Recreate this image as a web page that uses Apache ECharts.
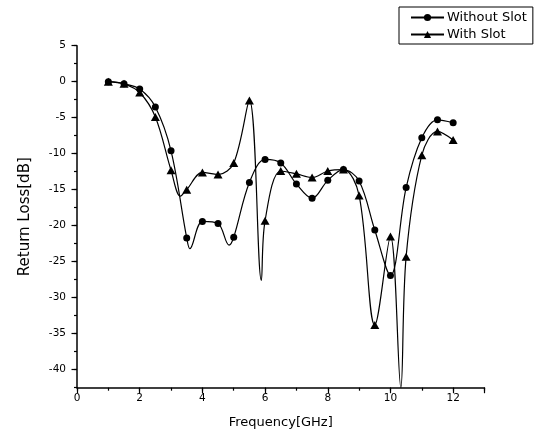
<!DOCTYPE html>
<html>
<head>
<meta charset="utf-8">
<script src="https://cdn.jsdelivr.net/npm/echarts@6/dist/echarts.min.js"></script>
<style>
html,body{margin:0;padding:0;background:#fff;}
#chart{width:540px;height:438px;}
</style>
</head>
<body>
<div id="chart"></div>
<script>
// Frequency (GHz) of the measured points
const freq = [1, 1.5, 2, 2.5, 3, 3.5, 4, 4.5, 5, 5.5, 6, 6.5, 7, 7.5, 8, 8.5, 9, 9.5, 10, 10.5, 11, 11.5, 12];
// Return loss (dB) — Without Slot (circles)
const withoutSlot = [0, -0.3, -1.0, -3.5, -9.6, -21.7, -19.4, -19.7, -21.6, -14.0, -10.8, -11.3, -14.2, -16.2, -13.7, -12.2, -13.8, -20.6, -26.9, -14.7, -7.8, -5.3, -5.7];
// Return loss (dB) — With Slot (triangles)
const withSlot = [0, -0.3, -1.5, -4.9, -12.3, -15.0, -12.6, -12.9, -11.3, -2.6, -19.3, -12.4, -12.8, -13.3, -12.4, -12.2, -15.8, -33.8, -21.5, -24.3, -10.2, -6.9, -8.1];
// Unmarked curve extremes read between markers
const withoutSlotDipFreq = [3.6, 4.85];
const withoutSlotDipVal = [-23.2, -22.7];
const withSlotDipFreq = [3.3, 5.88, 10.33];
const withSlotDipVal = [-15.9, -27.6, -42.5];

const xTickLabels = [0, 2, 4, 6, 8, 10, 12];
const yTickLabels = [5, 0, -5, -10, -15, -20, -25, -30, -35, -40];

function build(xs, ys, hx, hy) {
  const pts = xs.map((x, i) => ({ value: [x, ys[i]] }));
  hx.forEach((x, i) => pts.push({ value: [x, hy[i]], symbol: 'none' }));
  pts.sort((a, b) => a.value[0] - b.value[0]);
  return pts;
}

const FONT = 'DejaVu Sans';
const chart = echarts.init(document.getElementById('chart'), null, { renderer: 'canvas' });
const axisLine = { show: true, onZero: false, lineStyle: { color: '#000', width: 1.5 } };

chart.setOption({
  animation: false,
  backgroundColor: '#fff',
  grid: { left: 77, right: 55.5, top: 45.7, bottom: 50.3, containLabel: false },
  legend: {
    orient: 'vertical',
    left: 399,
    top: 7,
    padding: [3, 6, 2, 11],
    itemGap: 2,
    itemWidth: 33,
    itemHeight: 9,
    borderColor: '#000',
    borderWidth: 1,
    borderRadius: 0,
    backgroundColor: '#fff',
    textStyle: { color: '#000', fontFamily: FONT, fontSize: 13, lineHeight: 15, padding: [0, 0, 0, -2] },
    data: ['Without Slot', 'With Slot']
  },
  xAxis: [
    {
      type: 'value', min: 0, max: 13, interval: 1,
      name: 'Frequency[GHz]', nameLocation: 'middle', nameGap: 28,
      nameTextStyle: { color: '#000', fontFamily: FONT, fontSize: 13 },
      axisLine: axisLine,
      axisTick: { show: true, inside: false, length: 3, lineStyle: { color: '#000', width: 1.2 } },
      axisLabel: {
        color: '#000', fontFamily: FONT, fontSize: 10.5, margin: 5,
        formatter: v => (xTickLabels.indexOf(v) >= 0 ? String(v) : '')
      },
      splitLine: { show: false }
    },
    {
      type: 'value', min: 0, max: 13, interval: 2, position: 'bottom',
      axisLine: { show: false, onZero: false },
      axisTick: { show: true, inside: false, length: 5.5, lineStyle: { color: '#000', width: 1.2 } },
      axisLabel: { show: false },
      splitLine: { show: false }
    }
  ],
  yAxis: [
    {
      type: 'value', min: -42.5, max: 5, interval: 2.5,
      name: 'Return Loss[dB]', nameLocation: 'middle', nameGap: 44,
      nameTextStyle: { color: '#000', fontFamily: FONT, fontSize: 15 },
      axisLine: axisLine,
      axisTick: { show: true, inside: false, length: 3, lineStyle: { color: '#000', width: 1.2 } },
      axisLabel: {
        color: '#000', fontFamily: FONT, fontSize: 10.5, margin: 11,
        formatter: v => (yTickLabels.indexOf(v) >= 0 ? String(v) : '')
      },
      splitLine: { show: false }
    },
    {
      type: 'value', min: -42.5, max: 5, position: 'left',
      axisLine: { show: false, onZero: false },
      axisTick: { show: true, inside: false, length: 5.5, customValues: yTickLabels, lineStyle: { color: '#000', width: 1.2 } },
      axisLabel: { show: false, customValues: yTickLabels },
      splitLine: { show: false }
    }
  ],
  series: [
    {
      name: 'Without Slot', type: 'line', smooth: 0.35,
      symbol: 'circle', symbolSize: 7,
      itemStyle: { color: '#000' },
      lineStyle: { color: '#000', width: 1.2 },
      data: build(freq, withoutSlot, withoutSlotDipFreq, withoutSlotDipVal),
      z: 2
    },
    {
      name: 'With Slot', type: 'line', smooth: 0.35,
      symbol: 'triangle', symbolSize: [9, 8],
      itemStyle: { color: '#000' },
      lineStyle: { color: '#000', width: 1.2 },
      data: build(freq, withSlot, withSlotDipFreq, withSlotDipVal),
      z: 3
    }
  ]
});
</script>
</body>
</html>
